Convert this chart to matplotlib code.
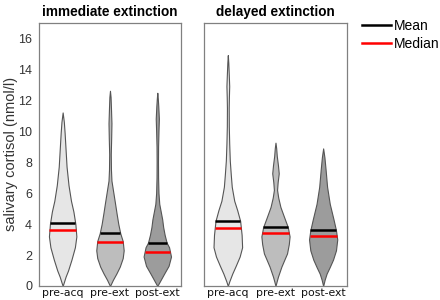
import numpy as np
import matplotlib
matplotlib.use("Agg")
import matplotlib.pyplot as plt
from matplotlib.lines import Line2D

# ---------------- data ----------------
conditions = ["pre-acq", "pre-ext", "post-ext"]
panel_titles = ["immediate extinction", "delayed extinction"]

# violin outlines: cortisol levels (nmol/l) and relative density (half width)
imm_preacq_y = [0, 0.3, 0.6, 1.0, 1.7, 2.5, 3.2, 4.0, 4.8, 5.5, 6.5, 7.7, 8.8, 9.9, 10.6, 11.2]
imm_preacq_d = [0, 1.5, 3, 5.5, 9, 12.5, 14, 13, 11, 8.5, 6, 4, 3, 2, 1.2, 0]
imm_preext_y = [0, 0.4, 0.8, 1.25, 1.8, 2.3, 2.9, 3.4, 4.0, 4.7, 5.4, 6.0, 6.8, 7.5, 8.5, 9.5, 10.5, 11.5, 12.2, 12.6]
imm_preext_d = [0, 3, 6.5, 10, 13, 14, 13, 10.5, 8.5, 6.7, 5, 3.5, 1.5, 1.0, 0.8, 1.2, 1.5, 1.0, 0.6, 0]
imm_postext_y = [0, 0.4, 0.8, 1.3, 1.9, 2.5, 2.8, 3.3, 3.8, 4.3, 4.8, 5.3, 6.0, 7.0, 8.0, 9.0, 10.0, 10.8, 11.6, 12.1, 12.47]
imm_postext_d = [0, 3.5, 7, 11.5, 14, 12, 9.5, 7.5, 6, 5, 3.5, 2, 1.2, 0.8, 0.7, 0.8, 1.2, 1.6, 1.0, 0.5, 0]

del_preacq_y = [0, 0.3, 0.8, 1.3, 1.9, 2.5, 3.3, 4.2, 4.9, 5.5, 6.4, 7.2, 8.1, 9.2, 10.3, 11.5, 12.2, 12.9, 13.6, 14.4, 14.9]
del_preacq_d = [0, 1.5, 4.5, 8, 12, 14.5, 14, 12.5, 9.5, 6.5, 4, 3, 2, 1.4, 1.0, 0.9, 1.1, 1.4, 1.0, 0.5, 0]
del_preext_y = [0, 0.3, 0.6, 1.25, 1.7, 2.1, 2.7, 3.2, 3.8, 4.4, 5.1, 5.7, 6.2, 6.7, 7.27, 7.8, 8.4, 8.9, 9.25]
del_preext_d = [0, 1.2, 2.5, 6, 9, 11.7, 13.5, 14.3, 12.5, 9, 5, 2.8, 1.6, 2.2, 3.3, 2.5, 1.3, 0.7, 0]
del_postext_y = [0, 0.4, 0.8, 1.2, 1.7, 2.3, 3.0, 3.6, 4.3, 5.3, 6.4, 7.5, 8.3, 8.88]
del_postext_d = [0, 1.5, 3.5, 6.5, 10, 13, 14.3, 13, 10.5, 6.7, 4, 2.5, 1.3, 0]

imm_means = [4.05, 3.44, 2.80]
imm_medians = [3.61, 2.84, 2.19]
del_means = [4.19, 3.83, 3.61]
del_medians = [3.76, 3.44, 3.23]

yticks = [0, 2, 4, 6, 8, 10, 12, 14, 16]
ylabel = "salivary cortisol (nmol/l)"
legend_labels = ["Mean", "Median"]

# ---------------- style ----------------
fills = ["#e6e6e6", "#bdbdbd", "#9c9c9c"]
edge = "#555555"
spine_col = "#808080"
max_half = 0.30  # data-units half width for largest density

panels = [
    ([(imm_preacq_y, imm_preacq_d), (imm_preext_y, imm_preext_d), (imm_postext_y, imm_postext_d)], imm_means, imm_medians),
    ([(del_preacq_y, del_preacq_d), (del_preext_y, del_preext_d), (del_postext_y, del_postext_d)], del_means, del_medians),
]

fig = plt.figure(figsize=(4.4, 3.0), dpi=100)
axes = [fig.add_axes([0.0886, 0.0467, 0.3227, 0.878]),
        fig.add_axes([0.4636, 0.0467, 0.325, 0.878])]

for k, (ax, (profiles, means, medians)) in enumerate(zip(axes, panels)):
    for i, (yy, dd) in enumerate(profiles):
        pos = i + 1
        yy = np.asarray(yy, float)
        dd = np.asarray(dd, float) / 14.5 * max_half
        ax.fill_betweenx(yy, pos - dd, pos + dd, facecolor=fills[i], edgecolor=edge, linewidth=0.8, zorder=2)
        for val, col in ((means[i], "black"), (medians[i], "#ff0000")):
            hw = np.interp(val, yy, dd)
            ax.plot([pos - hw, pos + hw], [val, val], color=col, linewidth=1.8, solid_capstyle="butt", zorder=3)
    ax.set_xlim(0.5, 3.5)
    ax.set_ylim(0, 17)
    ax.set_xticks([1, 2, 3])
    ax.set_xticklabels(conditions, fontsize=7.8, family="DejaVu Sans", color="#111111")
    ax.set_yticks(yticks)
    for s in ax.spines.values():
        s.set_color(spine_col)
        s.set_linewidth(0.9)
    ax.tick_params(axis="x", length=0, pad=1.5)
    ax.tick_params(axis="y", length=0, pad=5)
    ax.set_title(panel_titles[k], fontsize=9.8, fontweight="bold", family="Liberation Sans", pad=5)
    if k == 0:
        ax.set_yticklabels([str(t) for t in yticks], fontsize=9, family="Liberation Sans", color="#333333")
        ax.set_ylabel(ylabel, fontsize=10.5, family="Liberation Sans", color="#333333")
        ax.yaxis.set_label_coords(-0.145, 0.5)
    else:
        ax.set_yticklabels([])

handles = [Line2D([], [], color="black", linewidth=1.8),
           Line2D([], [], color="#ff0000", linewidth=1.8)]
fig.legend(handles, legend_labels, loc="upper left", bbox_to_anchor=(0.81, 0.955),
           frameon=False, prop={"family": "Liberation Sans", "size": 10},
           handlelength=2.1, handletextpad=0.2, labelspacing=0.3, borderaxespad=0)

fig.savefig("out.png", dpi=100)
